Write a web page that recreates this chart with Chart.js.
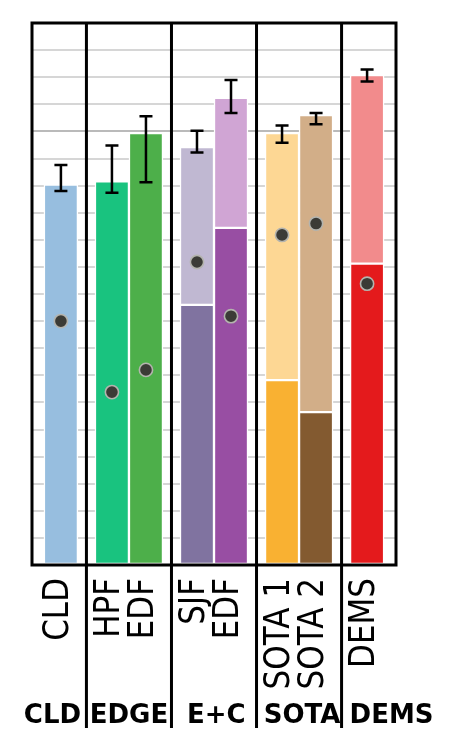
<!DOCTYPE html>
<html>
<head>
<meta charset="utf-8">
<script src="https://cdn.jsdelivr.net/npm/chart.js@4.4.1/dist/chart.umd.min.js"></script>
<style>
  html, body { margin: 0; padding: 0; background: #fff; }
  canvas { display: block; }
</style>
</head>
<body>
<canvas id="chart" width="458" height="752"></canvas>
<script>
// bar names and the group each block of bars belongs to
const barLabels = ['CLD', 'HPF', 'EDF', 'SJF', 'EDF', 'SOTA 1', 'SOTA 2', 'DEMS'];
const groupNames = ['CLD', 'EDGE', 'E+C', 'SOTA', 'DEMS'];

// values (0-100 scale)
const lowerValues = [70.2, 70.8, 79.7, 48.0, 62.2, 34.1, 28.2, 55.6];
const upperValues = [null, null, null, 77.1, 86.2, 79.7, 83.0, 90.4];
const dotValues = [45.0, 31.9, 36.0, 55.9, 45.9, 60.9, 63.0, 51.9];
const errLow = [69.0, 68.7, 70.6, 76.1, 83.4, 77.9, 81.3, 89.2];
const errHigh = [73.8, 77.4, 82.8, 80.1, 89.5, 81.1, 83.4, 91.4];

// colours
const lowerColors = ['#97bedf', '#19c37f', '#4daf4a', '#8073a0', '#984ea3', '#f9b132', '#835a30', '#e41a1c'];
const upperColors = ['#97bedf', '#19c37f', '#4daf4a', '#c0b8d2', '#d0a5d4', '#fdd794', '#d2ae88', '#f28b8c'];

// layout along the x axis (scale units)
const xSlots = [0, 1.5, 2.5, 4, 5, 6.5, 7.5, 9];
const separators = [0.75, 3.25, 5.75, 8.25];
const groupSlots = [-0.25, 2.0, 4.57, 7.09, 9.72];

const decor = {
  id: 'decor',
  afterDatasetsDraw(chart) {
    const { ctx, chartArea: a, scales: { x, y } } = chart;
    ctx.save();
    ctx.strokeStyle = '#000';
    ctx.lineWidth = 2.5;
    xSlots.forEach((s, i) => {
      const px = x.getPixelForValue(s);
      const lo = y.getPixelForValue(errLow[i]);
      const hi = y.getPixelForValue(errHigh[i]);
      ctx.beginPath();
      ctx.moveTo(px, lo); ctx.lineTo(px, hi);
      ctx.moveTo(px - 6.5, lo); ctx.lineTo(px + 6.5, lo);
      ctx.moveTo(px - 6.5, hi); ctx.lineTo(px + 6.5, hi);
      ctx.stroke();
    });

    // frame and group separators
    ctx.lineWidth = 3;
    ctx.strokeRect(a.left, a.top, a.right - a.left, a.bottom - a.top);
    separators.forEach(s => {
      const px = x.getPixelForValue(s);
      ctx.beginPath();
      ctx.moveTo(px, a.top);
      ctx.lineTo(px, 728);
      ctx.stroke();
    });
    ctx.restore();
  },
  afterDraw(chart) {
    const { ctx, chartArea: a, scales: { x } } = chart;
    ctx.save();
    ctx.fillStyle = '#000';

    // rotated bar names
    ctx.font = '31px "DejaVu Sans"';
    ctx.textAlign = 'right';
    ctx.textBaseline = 'middle';
    barLabels.forEach((lab, i) => {
      ctx.save();
      ctx.translate(x.getPixelForValue(xSlots[i]) - 2, a.bottom + 13);
      ctx.rotate(-Math.PI / 2);
      ctx.scale(1, 1.12);
      ctx.fillText(lab, 0, 0);
      ctx.restore();
    });

    // group names
    ctx.font = 'bold 26px "DejaVu Sans"';
    ctx.textAlign = 'center';
    ctx.textBaseline = 'alphabetic';
    groupNames.forEach((g, i) => {
      ctx.fillText(g, x.getPixelForValue(groupSlots[i]), 723);
    });
    ctx.restore();
  }
};

new Chart(document.getElementById('chart').getContext('2d'), {
  type: 'bar',
  data: {
    datasets: [
      {
        type: 'scatter',
        label: 'dots',
        data: xSlots.map((s, i) => ({ x: s, y: dotValues[i] })),
        pointRadius: 6.6,
        pointBackgroundColor: '#3b3b36',
        pointBorderColor: '#b4b4ae',
        pointBorderWidth: 1.6,
        order: 0
      },
      {
        label: 'lower',
        data: xSlots.map((s, i) => ({ x: s, y: lowerValues[i] })),
        backgroundColor: lowerColors,
        borderColor: '#fff',
        borderWidth: 1.5,
        borderSkipped: false,
        barThickness: 34,
        order: 1
      },
      {
        label: 'upper',
        data: xSlots.map((s, i) => ({ x: s, y: upperValues[i] === null ? null : [lowerValues[i], upperValues[i]] })),
        backgroundColor: upperColors,
        borderColor: '#fff',
        borderWidth: 1.5,
        borderSkipped: false,
        barThickness: 34,
        order: 1
      }
    ]
  },
  options: {
    responsive: false,
    animation: false,
    layout: { padding: { left: 32, right: 62, top: 23, bottom: 187 } },
    plugins: { legend: { display: false }, tooltip: { enabled: false } },
    scales: {
      x: {
        type: 'linear',
        min: -0.85,
        max: 9.85,
        offset: false,
        stacked: true,
        display: false
      },
      y: {
        min: 0,
        max: 100,
        ticks: { display: false, stepSize: 5 },
        border: { display: false },
        grid: {
          drawTicks: false,
          lineWidth: 2,
          color: ctx => (ctx.tick && ctx.tick.value === 80) ? '#bababa' : '#d6d6d6'
        }
      }
    }
  },
  plugins: [decor]
});
</script>
</body>
</html>
